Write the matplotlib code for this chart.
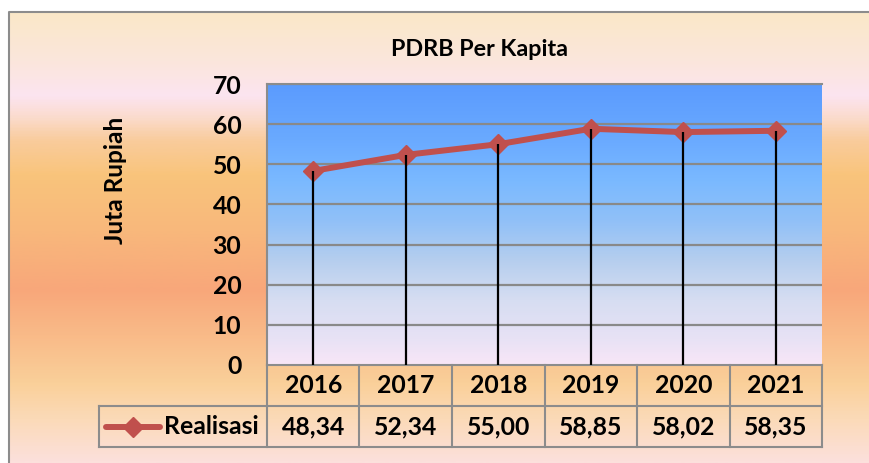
import numpy as np
import matplotlib
matplotlib.use("Agg")
import matplotlib.pyplot as plt
from matplotlib.colors import LinearSegmentedColormap
from matplotlib.transforms import blended_transform_factory
from matplotlib.lines import Line2D

# ---- data ----
years = ["2016", "2017", "2018", "2019", "2020", "2021"]
realisasi = [48.34, 52.34, 55.00, 58.85, 58.02, 58.35]
value_labels = ["48,34", "52,34", "55,00", "58,85", "58,02", "58,35"]
yticks = [0, 10, 20, 30, 40, 50, 60, 70]
title = "PDRB Per Kapita"
ylabel = "Juta Rupiah"
series_name = "Realisasi"

W, H = 870, 463
FONT = "Lato"
FS = 17.8
FS_T = 16.8
FS_Y = 17.6
plt.rcParams["font.family"] = [FONT, "DejaVu Sans"]

fig = plt.figure(figsize=(W / 100, H / 100), dpi=100)
fig.patch.set_facecolor("white")

# ---- outer chart background (pixel coordinates) ----
bg = fig.add_axes([0, 0, 1, 1])
bg.set_xlim(0, W)
bg.set_ylim(H, 0)
bg.axis("off")
bg_stops = [(12, "#FAE8C8"), (60, "#FBE6DC"), (95, "#FCE4F0"), (115, "#FBDCD0"),
            (140, "#F9CC9C"), (175, "#F9C47B"), (230, "#F8B87C"), (290, "#F8A77A"),
            (335, "#F9BA88"), (385, "#FAD09A"), (420, "#FBDAB8"), (463, "#FCE0DC")]
pos = [(p - 12) / (463 - 12) for p, _ in bg_stops]
cmap_bg = LinearSegmentedColormap.from_list("bg", list(zip(pos, [c for _, c in bg_stops])))
grad = np.linspace(0, 1, 400).reshape(-1, 1)
bg.imshow(grad, cmap=cmap_bg, aspect="auto", extent=[9, W, H, 12], zorder=0)
bg.plot([9, 9, W], [H, 12, 12], color="#8C8C8C", lw=1.5, zorder=1, solid_capstyle="butt")

# ---- plot area ----
L, R, T, B = 267, 822, 84, 365
ax = fig.add_axes([L / W, (H - B) / H, (R - L) / W, (B - T) / H])
ax.set_xlim(-0.5, len(years) - 0.5)
ax.set_ylim(0, 70)
pa_stops = [(84, "#5B9BFE"), (140, "#6AAAFF"), (180, "#7AB9FF"), (220, "#90C0F8"),
            (260, "#B5CEEE"), (300, "#D6DDF2"), (340, "#E8E2F5"), (365, "#F8E6F7")]
pos2 = [(p - 84) / (365 - 84) for p, _ in pa_stops]
cmap_pa = LinearSegmentedColormap.from_list("pa", list(zip(pos2, [c for _, c in pa_stops])))
ax.imshow(grad, cmap=cmap_pa, aspect="auto", extent=[-0.5, len(years) - 0.5, 0, 70], zorder=0)

for yv in yticks[1:]:
    ax.axhline(yv, color="#898989", lw=1.6, zorder=1)
for s in ax.spines.values():
    s.set_color("#8C8C8C")
    s.set_linewidth(1.5)
ax.spines["right"].set_visible(False)

x = np.arange(len(years))
ax.plot(x, realisasi, color="#C0504D", lw=4.3, marker="D", ms=10,
        mec="#C0504D", mfc="#C0504D", zorder=3, clip_on=False)
ax.vlines(x, 0, realisasi, color="black", lw=1.6, zorder=4)

ax.set_xticks([])
ax.set_yticks(yticks)
ax.set_yticklabels([str(v) for v in yticks], fontsize=FS, fontweight="bold")
ax.tick_params(axis="y", length=0, pad=18.5)

# ---- data table ----
tr = blended_transform_factory(ax.transData, ax.transAxes)
ah = B - T
row = 41 / ah
unit = (R - L) / len(years)
def px2data(px):
    return -0.5 + (px - L) / unit
leg_left = px2data(99)
gc = "#8C8C8C"
lw = 1.5
ax.add_line(Line2D([-0.5, len(years) - 0.5], [-row, -row], transform=tr, color=gc, lw=lw, clip_on=False))
ax.add_line(Line2D([leg_left, -0.5], [-row, -row], transform=tr, color=gc, lw=lw, clip_on=False))
ax.add_line(Line2D([leg_left, len(years) - 0.5], [-2 * row, -2 * row], transform=tr, color=gc, lw=lw, clip_on=False))
for i in range(len(years) + 1):
    ax.add_line(Line2D([i - 0.5, i - 0.5], [0, -2 * row], transform=tr, color=gc, lw=lw, clip_on=False))
ax.add_line(Line2D([leg_left, leg_left], [-row, -2 * row], transform=tr, color=gc, lw=lw, clip_on=False))

for i, (yr, vl) in enumerate(zip(years, value_labels)):
    ax.text(i, -row / 2, yr, transform=tr, ha="center", va="center",
            fontsize=FS, fontweight="bold", clip_on=False)
    ax.text(i, -1.5 * row, vl, transform=tr, ha="center", va="center",
            fontsize=FS, fontweight="bold", clip_on=False)

# legend key inside table
ax.add_line(Line2D([px2data(106), px2data(160)], [-1.5 * row, -1.5 * row], transform=tr,
                   color="#C0504D", lw=4.3, clip_on=False, solid_capstyle="round"))
ax.add_line(Line2D([px2data(133)], [-1.5 * row], transform=tr, marker="D", ms=10,
                   color="#C0504D", clip_on=False))
ax.text(px2data(164), -1.5 * row, series_name, transform=tr, ha="left", va="center",
        fontsize=FS, fontweight="bold", clip_on=False)

# ---- title and axis label ----
fig.text(480 / W, 1 - 50 / H, title, ha="center", va="center", fontsize=FS_T, fontweight="bold")
fig.text(116 / W, 1 - 180 / H, ylabel, ha="center", va="center", rotation=90,
         fontsize=FS_Y, fontweight="bold")

fig.savefig("out.png", dpi=100)
